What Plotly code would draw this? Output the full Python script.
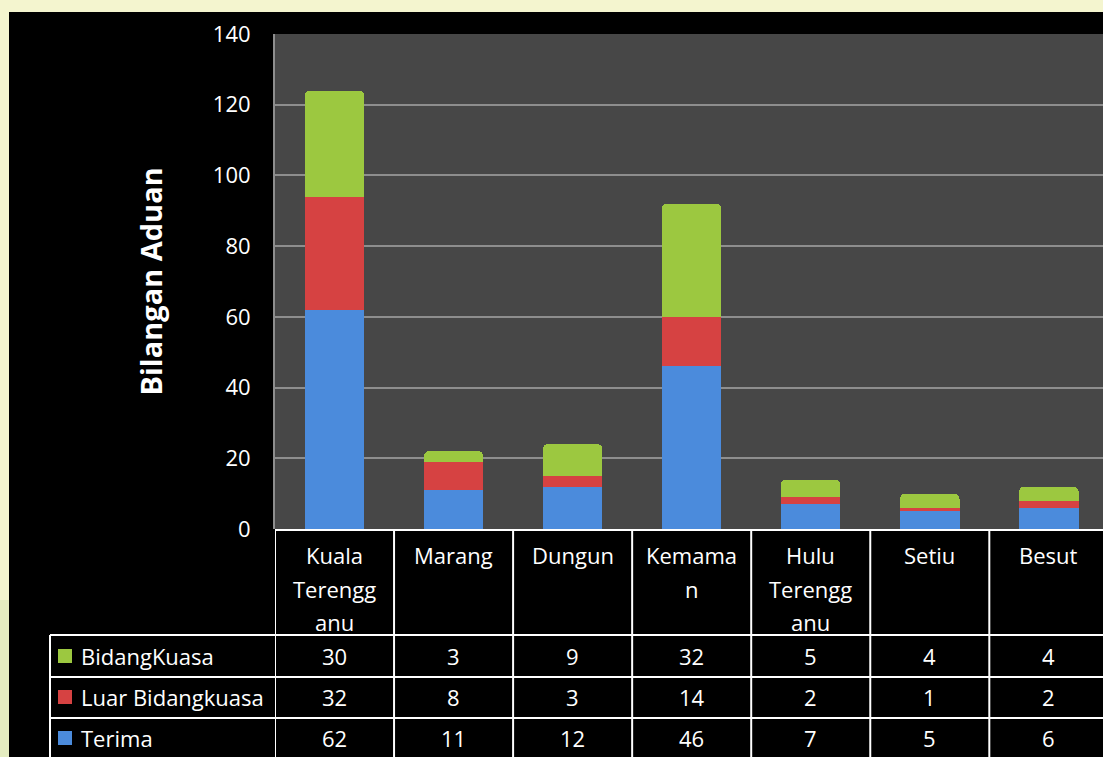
import plotly.graph_objects as go

# ---- data ----
categories = ["Kuala Terengganu", "Marang", "Dungun", "Kemaman", "Hulu Terengganu", "Setiu", "Besut"]
header_lines = [["Kuala", "Terengg", "anu"], ["Marang"], ["Dungun"], ["Kemama", "n"],
                ["Hulu", "Terengg", "anu"], ["Setiu"], ["Besut"]]
terima = [62, 11, 12, 46, 7, 5, 6]
luar_bidangkuasa = [32, 8, 3, 14, 2, 1, 2]
bidangkuasa = [30, 3, 9, 32, 5, 4, 4]
y_ticks = [0, 20, 40, 60, 80, 100, 120, 140]

series = [("Terima", terima, "#4B8BDC"),
          ("Luar Bidangkuasa", luar_bidangkuasa, "#D64242"),
          ("BidangKuasa", bidangkuasa, "#9CC840")]
table_rows = [series[2], series[1], series[0]]  # table order top to bottom

# ---- geometry ----
W, H = 1103, 757
L, T, B = 275, 34, 228
PW, PH = W - L, H - T - B
BOTTOM = H - B


def px(xp):
    return (xp - L) / PW


def py(yp):
    return (BOTTOM - yp) / PH


FONT = "Open Sans"
FS = 22
xs = list(range(len(categories)))

fig = go.Figure()
for name, vals, col in series:
    fig.add_trace(go.Bar(x=xs, y=vals, name=name, marker=dict(color=col, line=dict(width=0)),
                         width=0.5, showlegend=False))

shapes = []
annotations = []

# cream border (top and left)
shapes.append(dict(type="rect", xref="paper", yref="paper", x0=px(0), x1=px(W), y0=py(0), y1=py(12),
                   fillcolor="#F4F5CF", line=dict(width=0), layer="above"))
shapes.append(dict(type="rect", xref="paper", yref="paper", x0=px(0), x1=px(9), y0=py(0), y1=py(H),
                   fillcolor="#F4F5CF", line=dict(width=0), layer="above"))
shapes.append(dict(type="rect", xref="paper", yref="paper", x0=px(0), x1=px(9), y0=py(600), y1=py(H),
                   fillcolor="#E4ECC0", line=dict(width=0), layer="above"))

# table lines
row_lines = [530, 635, 677, 718]
LW = 2
shapes.append(dict(type="line", xref="paper", yref="paper", x0=px(L), x1=px(W), y0=py(530), y1=py(530),
                   line=dict(color="white", width=LW), layer="above"))
for r in row_lines[1:]:
    shapes.append(dict(type="line", xref="paper", yref="paper", x0=px(50), x1=px(W), y0=py(r), y1=py(r),
                       line=dict(color="white", width=LW), layer="above"))
for i in range(len(categories) + 1):
    shapes.append(dict(type="line", xref="x", yref="paper", x0=i - 0.5, x1=i - 0.5, y0=py(530), y1=py(H),
                       line=dict(color="white", width=LW), layer="above"))
shapes.append(dict(type="line", xref="paper", yref="paper", x0=px(50), x1=px(50), y0=py(635), y1=py(H),
                   line=dict(color="white", width=LW), layer="above"))

# header labels
line_y = [555, 589, 622]
for i, lines in enumerate(header_lines):
    for j, t in enumerate(lines):
        annotations.append(dict(x=i, y=py(line_y[j]), xref="x", yref="paper", text=t, showarrow=False,
                                font=dict(family=FONT, size=FS, color="white"), xanchor="center", yanchor="middle"))

# table rows
row_centers = [656, 697, 738]
for (name, vals, col), yc in zip(table_rows, row_centers):
    shapes.append(dict(type="rect", xref="paper", yref="paper", x0=px(58), x1=px(72), y0=py(yc - 7), y1=py(yc + 7),
                       fillcolor=col, line=dict(width=0), layer="above"))
    annotations.append(dict(x=px(79), y=py(yc), xref="paper", yref="paper", text=name, showarrow=False,
                            font=dict(family=FONT, size=FS, color="white"), xanchor="left", yanchor="middle"))
    for i, v in enumerate(vals):
        annotations.append(dict(x=i, y=py(yc), xref="x", yref="paper", text=str(v), showarrow=False,
                                font=dict(family=FONT, size=FS, color="white"), xanchor="center", yanchor="middle"))

# y axis title
annotations.append(dict(x=px(150), y=0.5, xref="paper", yref="paper", text="<b>Bilangan Aduan</b>",
                        textangle=-90, showarrow=False, font=dict(family=FONT, size=29, color="white"),
                        xanchor="center", yanchor="middle"))

fig.update_layout(
    width=W, height=H,
    margin=dict(l=L, r=0, t=T, b=B, pad=0),
    paper_bgcolor="black",
    plot_bgcolor="#474747",
    barmode="stack",
    barcornerradius=5,
    shapes=shapes,
    annotations=annotations,
    xaxis=dict(range=[-0.5, 6.455], showticklabels=False, showgrid=False, zeroline=False, ticks=""),
    yaxis=dict(range=[0, 140], tickvals=y_ticks, showgrid=True, gridcolor="#8E8E8E", gridwidth=2,
               zeroline=False, showline=True, linecolor="#8E8E8E", linewidth=2,
               ticks="outside", ticklen=18, tickcolor="rgba(0,0,0,0)",
               tickfont=dict(family=FONT, size=FS, color="white")),
)

fig.write_html("out.html", config={"displayModeBar": False},
               post_script="document.body.style.margin='0';document.body.style.overflow='hidden';")
